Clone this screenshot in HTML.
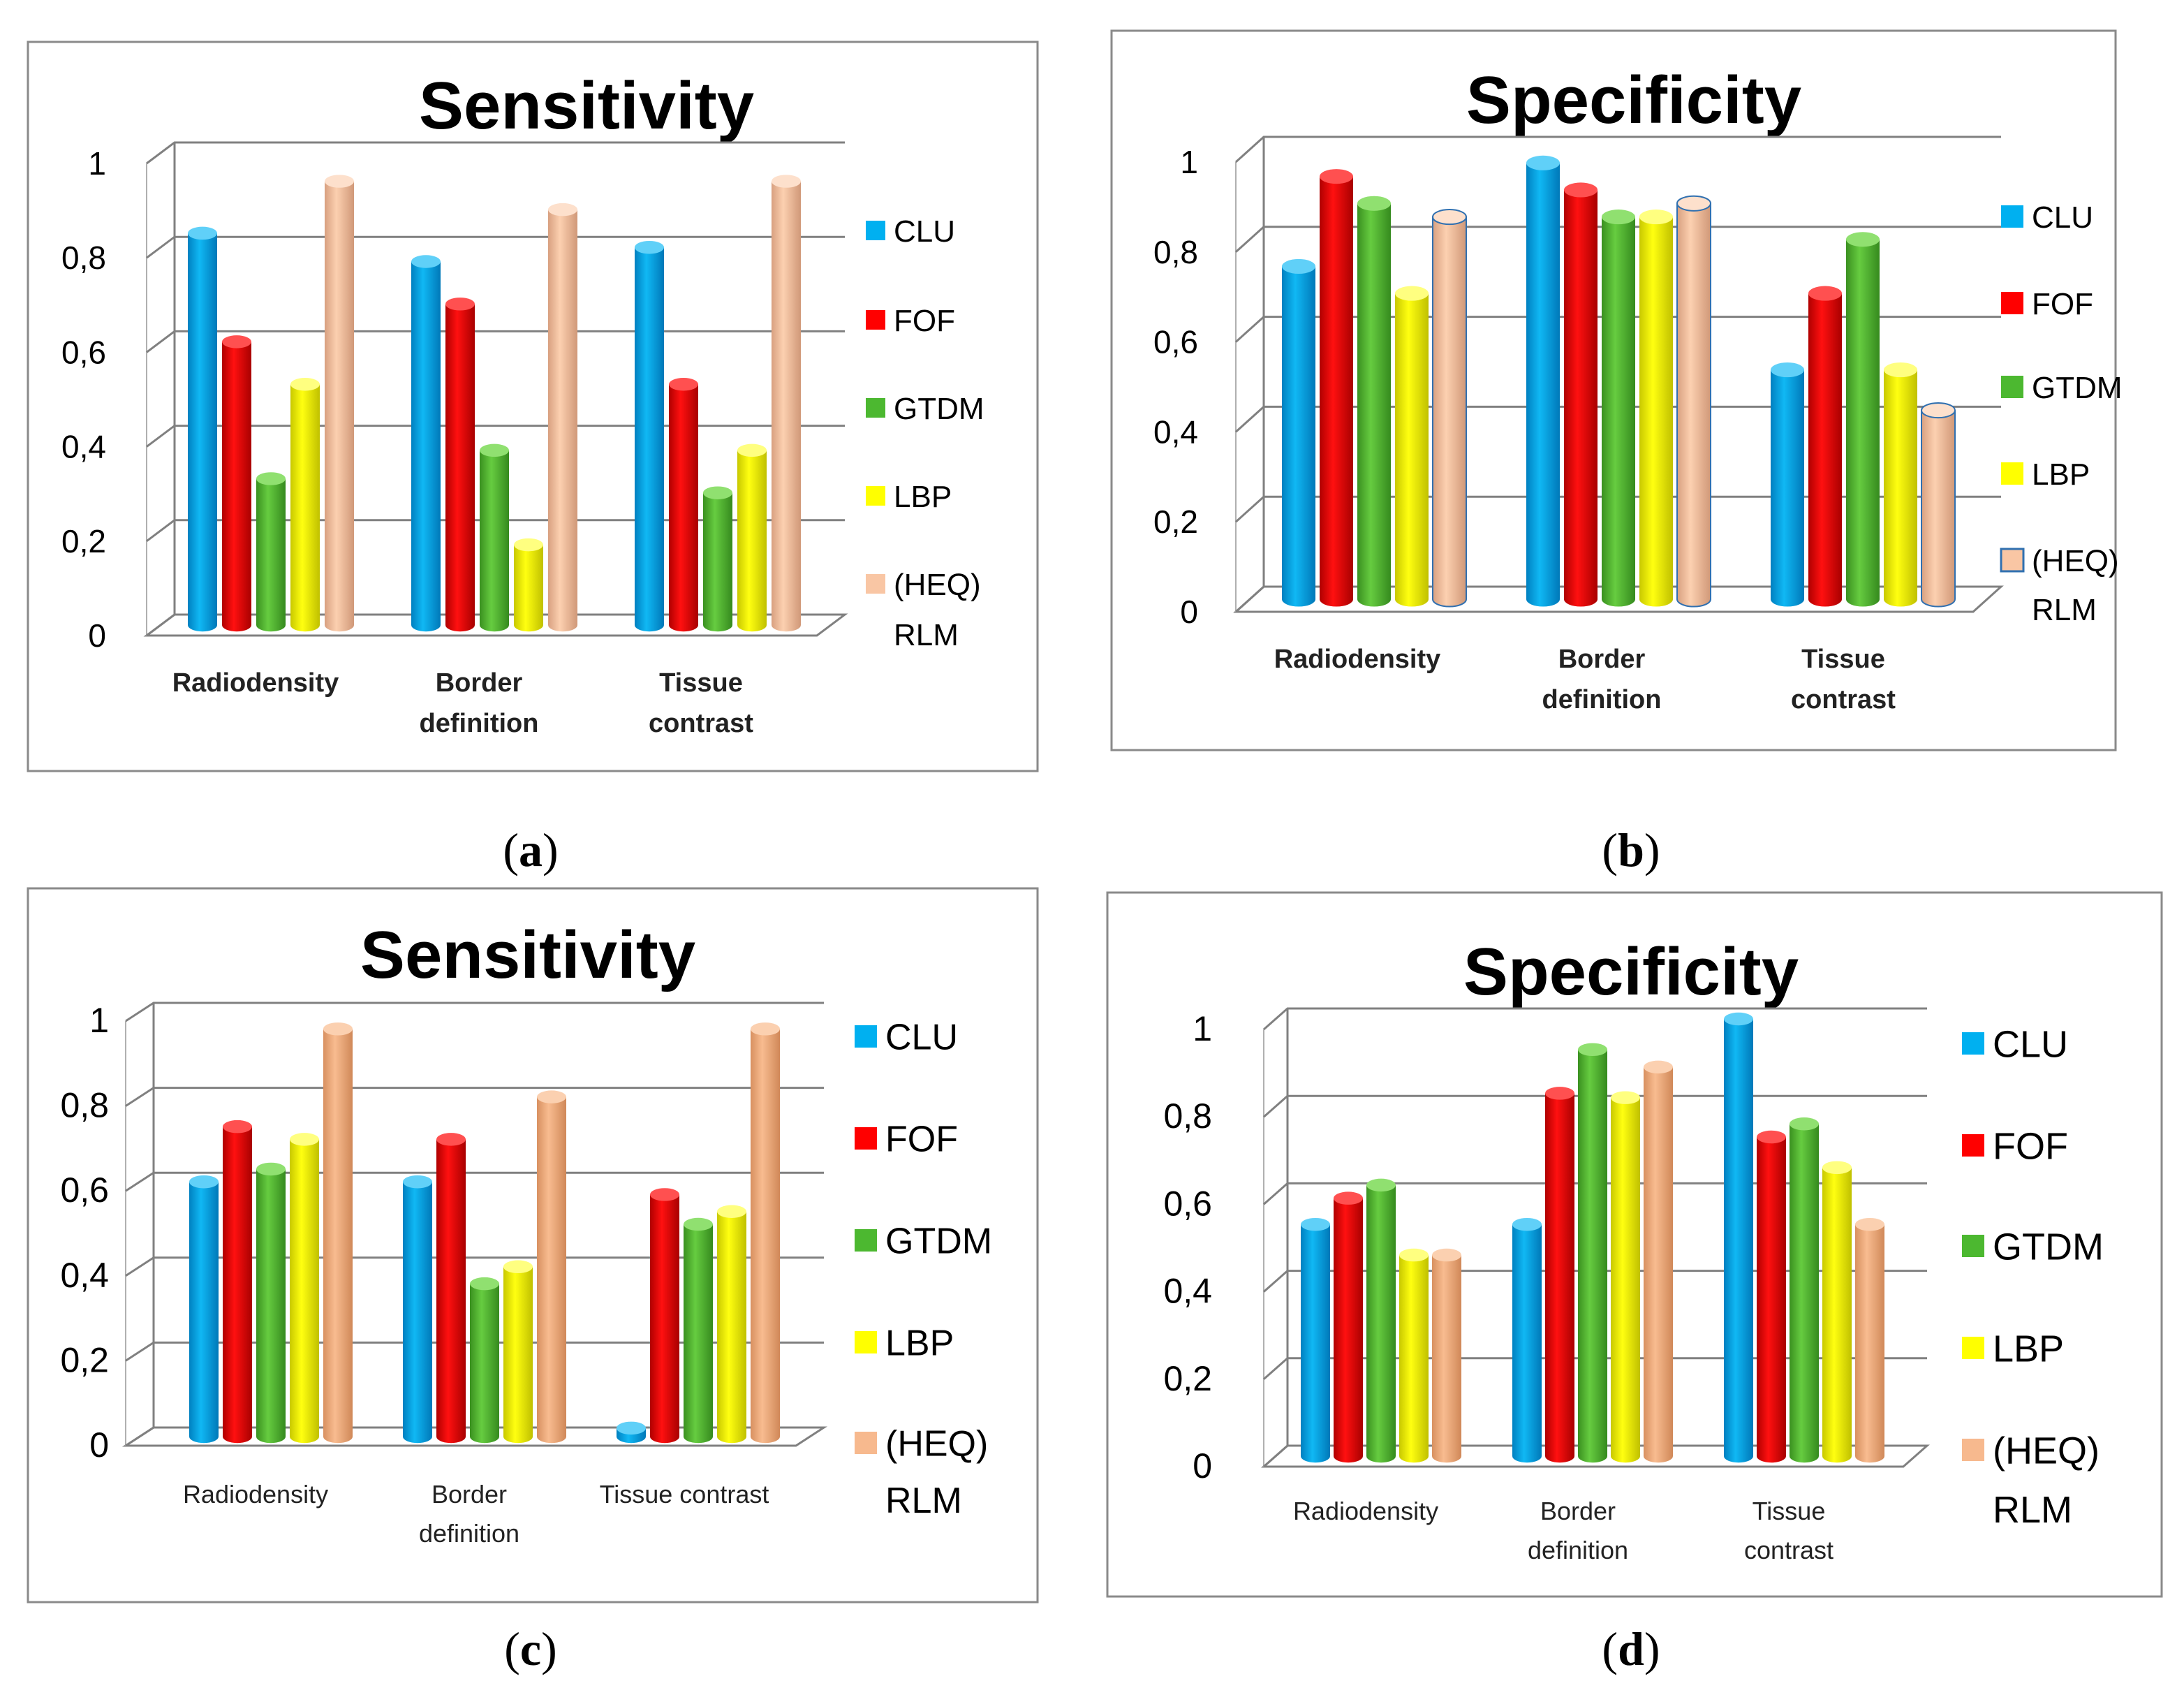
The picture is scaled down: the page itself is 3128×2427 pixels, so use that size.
<!DOCTYPE html>
<html><head><meta charset="utf-8"><style>
html,body{margin:0;padding:0;background:#fff;}
svg{display:block;font-family:"Liberation Sans",sans-serif;}
</style></head><body>
<svg id="root" width="3128" height="2427" viewBox="0 0 1564 1213.5" xmlns="http://www.w3.org/2000/svg">
<defs>
<linearGradient id="gCLU" x1="0" x2="1"><stop offset="0" stop-color="#0080c0"/><stop offset="0.4" stop-color="#10b8f4"/><stop offset="1" stop-color="#0078b8"/></linearGradient>
<linearGradient id="gFOF" x1="0" x2="1"><stop offset="0" stop-color="#b00000"/><stop offset="0.4" stop-color="#ff1010"/><stop offset="1" stop-color="#a80000"/></linearGradient>
<linearGradient id="gGTDM" x1="0" x2="1"><stop offset="0" stop-color="#3a9020"/><stop offset="0.4" stop-color="#66cc40"/><stop offset="1" stop-color="#358a1e"/></linearGradient>
<linearGradient id="gLBP" x1="0" x2="1"><stop offset="0" stop-color="#c8c800"/><stop offset="0.4" stop-color="#ffff10"/><stop offset="1" stop-color="#c0c000"/></linearGradient>
<linearGradient id="gHEQ" x1="0" x2="1"><stop offset="0" stop-color="#d8a080"/><stop offset="0.4" stop-color="#fcd0b0"/><stop offset="1" stop-color="#d09878"/></linearGradient>
<linearGradient id="gHEQd" x1="0" x2="1"><stop offset="0" stop-color="#d89060"/><stop offset="0.4" stop-color="#f8bc90"/><stop offset="1" stop-color="#d08858"/></linearGradient>
</defs>
</svg>
<script>
const seriesNames = ['CLU','FOF','GTDM','LBP','(HEQ)'];
const tickLabels = ['0','0,2','0,4','0,6','0,8','1'];
const tickValues = [0,0.2,0.4,0.6,0.8,1];
// chart (a) Sensitivity
const aCLU  = [0.83,0.77,0.80];
const aFOF  = [0.60,0.68,0.51];
const aGTDM = [0.31,0.37,0.28];
const aLBP  = [0.51,0.17,0.37];
const aHEQ  = [0.94,0.88,0.94];
// chart (b) Specificity
const bCLU  = [0.74,0.97,0.51];
const bFOF  = [0.94,0.91,0.68];
const bGTDM = [0.88,0.85,0.80];
const bLBP  = [0.68,0.85,0.51];
const bHEQ  = [0.85,0.88,0.42];
// chart (c) Sensitivity
const cCLU  = [0.60,0.60,0.02];
const cFOF  = [0.73,0.70,0.57];
const cGTDM = [0.63,0.36,0.50];
const cLBP  = [0.70,0.40,0.53];
const cHEQ  = [0.96,0.80,0.96];
// chart (d) Specificity
const dCLU  = [0.53,0.53,1.00];
const dFOF  = [0.59,0.83,0.73];
const dGTDM = [0.62,0.93,0.76];
const dLBP  = [0.46,0.82,0.66];
const dHEQ  = [0.46,0.89,0.53];

const NS='http://www.w3.org/2000/svg';
const root=document.getElementById('root');
function mk(tag,attrs,parent,text){const e=document.createElementNS(NS,tag);for(const k in attrs)e.setAttribute(k,attrs[k]);if(text!==undefined)e.textContent=text;(parent||root).appendChild(e);return e;}

const charts=[
 {id:'a',title:'Sensitivity',series:[aCLU,aFOF,aGTDM,aLBP,aHEQ],frame:[20,30,723,522],titleX:420,titleY:92,titleSize:48,
  x0:105,xR:585,dx:20,dy:15,y0:455,unit:338,tickX:76,tickSize:23,
  groupStart:145,barStep:24.5,groupStep:160,barW:21,
  cats:[['Radiodensity'],['Border','definition'],['Tissue','contrast']],catX:[183,343,502],catY:495,catSize:19,catBold:true,catGap:29,
  legX:620,legY:[165,229,292,355,418],legSq:14,legSize:22,rlmY:462,cap:'(a)',capX:380,heq:'gHEQ'},
 {id:'b',title:'Specificity',series:[bCLU,bFOF,bGTDM,bLBP,bHEQ],frame:[796,22,719,515],titleX:1170,titleY:88,titleSize:48,
  x0:885,xR:1413,dx:20,dy:18,y0:438,unit:322,tickX:858,tickSize:23,
  groupStart:930,barStep:27,groupStep:175,barW:24,
  cats:[['Radiodensity'],['Border','definition'],['Tissue','contrast']],catX:[972,1147,1320],catY:478,catSize:19,catBold:true,catGap:29,
  legX:1433,legY:[155,217,277,339,401],legSq:16,legSize:22,rlmY:444,cap:'(b)',capX:1168,heq:'gHEQ',heqStroke:true},
 {id:'c',title:'Sensitivity',series:[cCLU,cFOF,cGTDM,cLBP,cHEQ],frame:[20,636,723,511],titleX:378,titleY:700,titleSize:48,
  x0:90,xR:570,dx:20,dy:13,y0:1035,unit:304,tickX:78,tickSize:25,
  groupStart:146,barStep:24,groupStep:153,barW:21,
  cats:[['Radiodensity'],['Border','definition'],['Tissue contrast']],catX:[183,336,490],catY:1076,catSize:18,catBold:false,catGap:28,
  legX:612,legY:[742,815,888,961,1033],legSq:16,legSize:26,rlmY:1083,cap:'(c)',capX:380,heq:'gHEQd'},
 {id:'d',title:'Specificity',series:[dCLU,dFOF,dGTDM,dLBP,dHEQ],frame:[793,639,755,504],titleX:1168,titleY:712,titleSize:48,
  x0:905,xR:1363,dx:17,dy:15,y0:1050,unit:313,tickX:868,tickSize:25,
  groupStart:942,barStep:23.5,groupStep:151.5,barW:21,
  cats:[['Radiodensity'],['Border','definition'],['Tissue','contrast']],catX:[978,1130,1281],catY:1088,catSize:18,catBold:false,catGap:28,
  legX:1405,legY:[747,820,892,965,1038],legSq:16,legSize:27,rlmY:1090,cap:'(d)',capX:1168,heq:'gHEQd'}
];
const fills=['gCLU','gFOF','gGTDM','gLBP',null];
const tops=['#60d0f8','#ff5050','#90e070','#ffff80','#fde0cc'];
const legCols=['#00b0f0','#ff0000','#4cb830','#ffff00','#f9c6a4'];

charts.forEach(c=>{
  const g=mk('g',{});
  
  
  const fr=mk('rect',{x:c.frame[0],y:c.frame[1],width:c.frame[2],height:c.frame[3],fill:'#fff',stroke:'#8a8a8a','stroke-width':1.5},g);
  
  
  const t=mk('text',{x:c.titleX,y:c.titleY,'text-anchor':'middle','font-size':c.titleSize,'font-weight':'bold',fill:'#000'},g,c.title);
  
  
  const yF=v=>c.y0-v*c.unit;
  const fl=mk('polygon',{points:`${c.x0},${c.y0} ${c.xR},${c.y0} ${c.xR+c.dx},${c.y0-c.dy} ${c.x0+c.dx},${c.y0-c.dy}`,fill:'#fff',stroke:'#808080','stroke-width':1.5},g);
  
  
  mk('line',{x1:c.x0+c.dx,y1:yF(1)-c.dy,x2:c.x0+c.dx,y2:c.y0-c.dy,stroke:'#808080','stroke-width':1.5},g);
  mk('line',{x1:c.x0,y1:yF(1),x2:c.x0,y2:c.y0,stroke:'#b0b0b0','stroke-width':1},g);
  tickValues.forEach((v,i)=>{
    const yf=yF(v);
    const gl=mk('polyline',{points:`${c.x0},${yf} ${c.x0+c.dx},${yf-c.dy} ${c.xR+c.dx},${yf-c.dy}`,fill:'none',stroke:'#808080','stroke-width':1.5},g);
    
    
    const tl=mk('text',{x:c.tickX,y:yf+8,'text-anchor':'end','font-size':c.tickSize,fill:'#000'},g,tickLabels[i]);
    
    
  });
  const base=c.y0-c.dy/2;
  c.series.forEach((arr,s)=>{
    arr.forEach((v,k)=>{
      const cx=c.groupStart+k*c.groupStep+s*c.barStep;
      const w=c.barW, ry=w*0.22, top=base-v*c.unit;
      const bg=mk('g',{},g);
      
      
      const f='url(#'+(fills[s]||c.heq)+')';
      const st=(s===4&&c.heqStroke)?'#3070b0':'none';
      mk('ellipse',{cx:cx,cy:base,rx:w/2,ry:ry,fill:f,stroke:st},bg);
      mk('rect',{x:cx-w/2,y:top,width:w,height:Math.max(0,base-top),fill:f},bg);
      if(st!=='none'){mk('line',{x1:cx-w/2,y1:top,x2:cx-w/2,y2:base,stroke:st},bg);mk('line',{x1:cx+w/2,y1:top,x2:cx+w/2,y2:base,stroke:st},bg);}
      mk('ellipse',{cx:cx,cy:top,rx:w/2,ry:ry,fill:s===4&&c.heq==='gHEQd'?'#fbd0b0':tops[s],stroke:st},bg);
    });
  });
  c.cats.forEach((lines,k)=>{
    lines.forEach((ln,j)=>{
      const ct=mk('text',{x:c.catX[k],y:c.catY+j*c.catGap,'text-anchor':'middle','font-size':c.catSize,'font-weight':c.catBold?'bold':'normal',fill:'#222'},g,ln);
      
      
    });
  });
  seriesNames.forEach((n,s)=>{
    const lg=mk('g',{},g);
    
    
    const q=c.legSq, y=c.legY[s];
    const col=(s===4&&c.heq==='gHEQd')?'#f7b98e':legCols[s];
    mk('rect',{x:c.legX,y:y-q/2,width:q,height:q,fill:col,stroke:(s===4&&c.heqStroke)?'#3070b0':'none','stroke-width':1.5},lg);
    mk('text',{x:c.legX+q+6,y:y+c.legSize*0.36,'font-size':c.legSize,fill:'#000'},lg,n);
    if(s===4) mk('text',{x:c.legX+q+6,y:c.rlmY,'font-size':c.legSize,fill:'#000'},lg,'RLM');
  });
  const cp=mk('text',{x:c.capX,y:(c.id==='a'||c.id==='b')?620:1192,'text-anchor':'middle','font-size':34,'font-family':'"Liberation Serif",serif',fill:'#000'});
  
  
  mk('tspan',{},cp,'(');
  mk('tspan',{'font-weight':'bold'},cp,c.id);
  mk('tspan',{},cp,')');
});
</script>
</body></html>
